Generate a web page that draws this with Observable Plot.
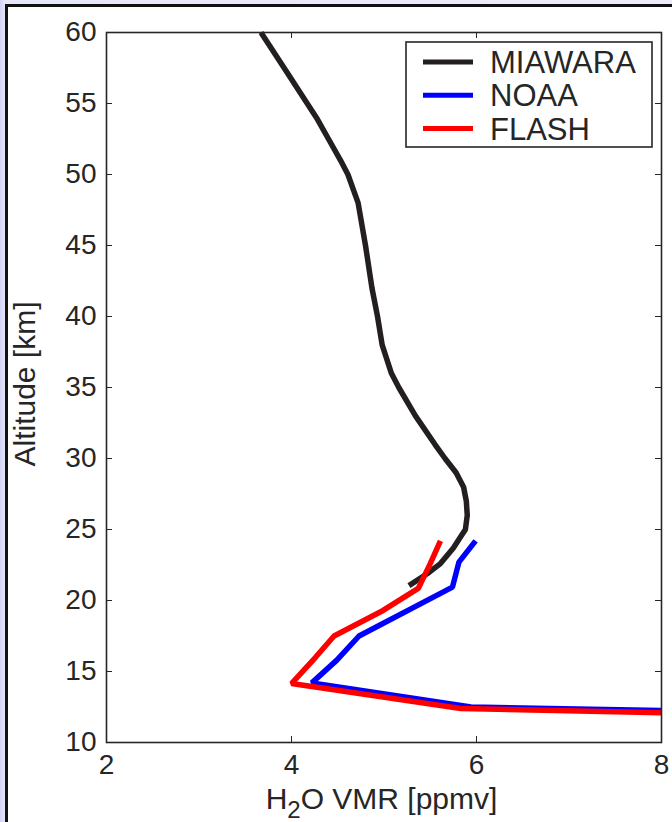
<!DOCTYPE html>
<html>
<head>
<meta charset="utf-8">
<script src="https://cdn.jsdelivr.net/npm/d3@7"></script>
<script src="https://cdn.jsdelivr.net/npm/@observablehq/plot@0.6"></script>
<style>
  html, body { margin: 0; padding: 0; }
  body { width: 672px; height: 822px; position: relative; overflow: hidden;
         background: linear-gradient(to right, #d2d2f6 0px, #e6e6f9 5px, #ececfa 100%); }
  #paper { position: absolute; left: 5px; top: 4px; width: 672px; height: 830px;
           background: #ffffff; border-left: 3px solid #111; border-top: 3px solid #111; }
  #chart { position: absolute; left: 0; top: 0; }
</style>
</head>
<body>
<div id="paper"></div>
<div id="chart"></div>
<script>
// ---- data ----
const miawaraAlt = [60, 57, 55, 54, 52.5, 51, 50, 48, 45, 42, 40, 38, 36, 35, 33, 31, 30, 29, 28, 27, 26, 25, 24.5, 23.7, 22.6, 21.9, 21.05];
const miawaraVmr = [3.67, 3.97, 4.17, 4.27, 4.40, 4.53, 4.61, 4.72, 4.80, 4.87, 4.93, 4.98, 5.08, 5.16, 5.34, 5.55, 5.66, 5.78, 5.86, 5.89, 5.90, 5.88, 5.83, 5.75, 5.61, 5.47, 5.27];

const noaaAlt = [24.2, 22.7, 20.94, 17.5, 15.8, 14.2, 12.5, 12.25];
const noaaVmr = [5.99, 5.81, 5.74, 4.73, 4.49, 4.22, 5.94, 8.0];

const flashAlt = [24.2, 22.6, 20.85, 19.3, 17.5, 16.0, 14.15, 12.4, 12.1];
const flashVmr = [5.61, 5.50, 5.37, 4.99, 4.46, 4.26, 4.00, 5.83, 8.0];

const seriesNames = ["MIAWARA", "NOAA", "FLASH"];
const seriesColors = ["#231f20", "#0000ff", "#ff0000"];

const xTicks = [2, 4, 6, 8];
const yTicks = [10, 15, 20, 25, 30, 35, 40, 45, 50, 55, 60];

const xLabelMain = "H";
const xLabelSub = "2";
const xLabelRest = "O VMR [ppmv]";
const yLabel = "Altitude [km]";

// ---- build tables ----
const toRows = (alts, vmrs, name) => alts.map((a, i) => ({alt: a, vmr: vmrs[i], series: name}));
const miawara = toRows(miawaraAlt, miawaraVmr, "MIAWARA");
const noaa = toRows(noaaAlt, noaaVmr, "NOAA");
const flash = toRows(flashAlt, flashVmr, "FLASH");

const W = 672, H = 822;
const mL = 106, mR = 11, mT = 32, mB = 80;
const pw = W - mL - mR, ph = H - mT - mB;
const tick = 6;
const ink = "#262626";
const font = "'Liberation Sans', Arial, Helvetica, sans-serif";

const chart = Plot.plot({
  width: W, height: H,
  marginLeft: mL, marginRight: mR, marginTop: mT, marginBottom: mB,
  x: {domain: [2, 8]},
  y: {domain: [10, 60]},
  style: {fontFamily: font, fontSize: "28px", background: "transparent", color: ink, overflow: "visible"},
  marks: [
    Plot.axisX({ticks: xTicks, tickFormat: d3.format("d"), tickSize: 0, tickPadding: 12, label: null, fontSize: 28}),
    Plot.axisY({ticks: yTicks, tickFormat: d3.format("d"), tickSize: 0, tickPadding: 10, label: null, fontSize: 28}),
    // inward ticks, four sides
    Plot.tickY(yTicks, {y: d => d, stroke: ink, strokeWidth: 1, insetRight: pw - tick}),
    Plot.tickY(yTicks, {y: d => d, stroke: ink, strokeWidth: 1, insetLeft: pw - tick}),
    Plot.tickX(xTicks, {x: d => d, stroke: ink, strokeWidth: 1, insetTop: ph - tick}),
    Plot.tickX(xTicks, {x: d => d, stroke: ink, strokeWidth: 1, insetBottom: ph - tick}),
    Plot.line(miawara, {x: "vmr", y: "alt", stroke: seriesColors[0], strokeWidth: 5.5, strokeLinejoin: "miter", strokeLinecap: "butt"}),
    Plot.line(noaa, {x: "vmr", y: "alt", stroke: seriesColors[1], strokeWidth: 5.5, strokeLinejoin: "miter", strokeLinecap: "butt"}),
    Plot.line(flash, {x: "vmr", y: "alt", stroke: seriesColors[2], strokeWidth: 5.5, strokeLinejoin: "miter", strokeLinecap: "butt"}),
    Plot.frame({stroke: ink, strokeWidth: 1.6})
  ]
});

document.getElementById("chart").appendChild(chart);

const svg = d3.select(chart);

// x axis label with subscript
const xl = svg.append("text")
  .attr("x", mL + pw / 2 - 2).attr("y", 809)
  .attr("text-anchor", "middle")
  .attr("font-family", font).attr("font-size", 30).attr("fill", ink);
xl.append("tspan").text(xLabelMain);
xl.append("tspan").attr("dy", 9).attr("font-size", 24).text(xLabelSub);
xl.append("tspan").attr("dy", -9).text(xLabelRest);

// y axis label
svg.append("text")
  .attr("transform", `translate(35, ${mT + ph / 2 - 3}) rotate(-90)`)
  .attr("text-anchor", "middle")
  .attr("font-family", font).attr("font-size", 30).attr("fill", ink)
  .text(yLabel);

// legend
const lg = svg.append("g");
lg.append("rect").attr("x", 406).attr("y", 42).attr("width", 246).attr("height", 105)
  .attr("fill", "white").attr("stroke", ink).attr("stroke-width", 1.6);
seriesNames.forEach((name, i) => {
  const y = 62 + i * 33.3;
  lg.append("line").attr("x1", 423).attr("x2", 473).attr("y1", y).attr("y2", y)
    .attr("stroke", seriesColors[i]).attr("stroke-width", 5);
  lg.append("text").attr("x", 490).attr("y", y).attr("dy", "0.36em")
    .attr("text-anchor", "start")
    .attr("font-family", font).attr("font-size", 31).attr("fill", ink).text(name);
});
</script>
</body>
</html>
